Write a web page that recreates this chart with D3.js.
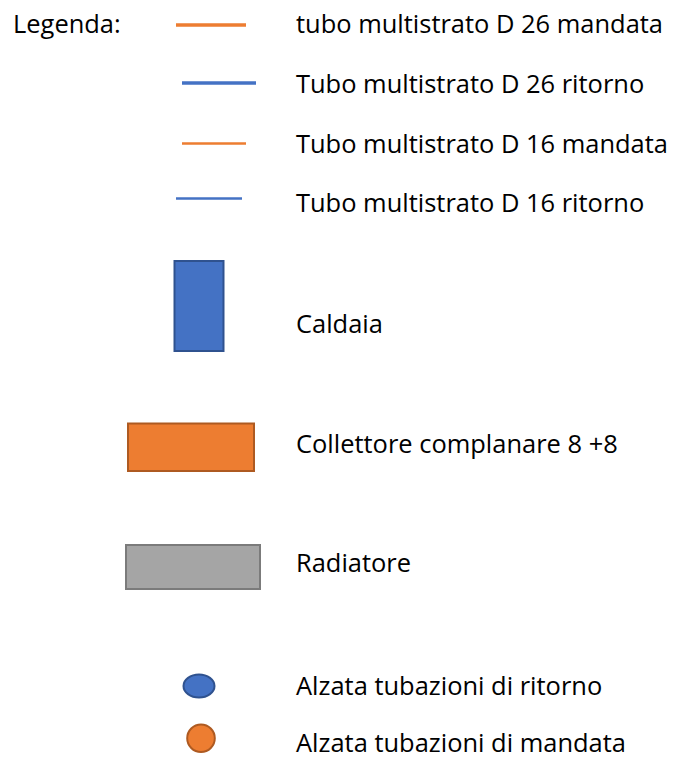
<!DOCTYPE html>
<html><head><meta charset="utf-8">
<script src="https://cdn.jsdelivr.net/npm/d3@7"></script>
<style>html,body{margin:0;padding:0;background:#fff;}svg{display:block;}</style>
</head><body>
<svg id="c" width="674" height="758"></svg>
<script>
const title = "Legenda:";
const labels = [
  "tubo multistrato D 26 mandata",
  "Tubo multistrato D 26 ritorno",
  "Tubo multistrato D 16 mandata",
  "Tubo multistrato D 16 ritorno",
  "Caldaia",
  "Collettore complanare 8 +8",
  "Radiatore",
  "Alzata tubazioni di ritorno",
  "Alzata tubazioni di mandata"
];
const symbols = ["line26", "line26", "line16", "line16", "boiler", "manifold", "radiator", "ellipse", "circle"];
const kinds = ["mandata", "ritorno", "mandata", "ritorno", "ritorno", "mandata", "radiator", "ritorno", "mandata"];

const svg = d3.select("#c");
const W = 674, H = 758;

// layout scales
const yBase = d3.scaleOrdinal().domain(d3.range(labels.length))
  .range([33, 92.5, 153, 212, 332.5, 453, 572, 695, 752]);
const fill = d3.scaleOrdinal().domain(["mandata", "ritorno", "radiator"])
  .range(["#ED7D31", "#4472C4", "#A5A5A5"]);
const stroke = d3.scaleOrdinal().domain(["mandata", "ritorno", "radiator"])
  .range(["#AE5A21", "#2F528F", "#7B7B7B"]);

const fontFamily = "'Open Sans', 'Noto Sans', sans-serif";
const fontSize = 25.5;
const textX = 296;

// measure horizontal compression to mimic narrower original face
const probe = svg.append("text").attr("font-family", fontFamily).attr("font-size", fontSize).text(labels[0]);
const ratio = 367 / probe.node().getComputedTextLength();
probe.remove();

function addText(g, str, x, y) {
  const t = g.append("text").attr("x", x).attr("y", y)
    .attr("font-family", fontFamily).attr("font-size", fontSize).attr("fill", "#000").text(str);
  const L = t.node().getComputedTextLength();
  t.attr("textLength", L * ratio).attr("lengthAdjust", "spacingAndGlyphs");
}

addText(svg, title, 13, yBase(0));

const row = svg.selectAll("g.row").data(labels.map((l, i) => ({l, i, s: symbols[i], k: kinds[i]})))
  .join("g").attr("class", "row");

row.each(function(d) {
  const g = d3.select(this);
  const y = yBase(d.i);
  const mid = y - 8;
  if (d.s === "line26" || d.s === "line16") {
    const spans = {0: [176, 246], 1: [182, 256], 2: [182, 246], 3: [176, 242]};
    const sw = d.s === "line26" ? (d.i === 0 ? 3.6 : 3.4) : 2.4;
    const ly = [25, 83, 143.5, 198.5][d.i];
    g.append("line").attr("x1", spans[d.i][0]).attr("x2", spans[d.i][1])
      .attr("y1", ly).attr("y2", ly).attr("stroke", fill(d.k)).attr("stroke-width", sw);
  } else if (d.s === "boiler") {
    g.append("rect").attr("x", 174.5).attr("y", 261).attr("width", 49).attr("height", 90)
      .attr("fill", fill(d.k)).attr("stroke", stroke(d.k)).attr("stroke-width", 2);
  } else if (d.s === "manifold") {
    g.append("rect").attr("x", 128).attr("y", 423.5).attr("width", 126).attr("height", 47.5)
      .attr("fill", fill(d.k)).attr("stroke", stroke(d.k)).attr("stroke-width", 2);
  } else if (d.s === "radiator") {
    g.append("rect").attr("x", 126).attr("y", 545).attr("width", 134).attr("height", 44)
      .attr("fill", fill(d.k)).attr("stroke", stroke(d.k)).attr("stroke-width", 2);
  } else if (d.s === "ellipse") {
    g.append("ellipse").attr("cx", 199).attr("cy", 686).attr("rx", 15.5).attr("ry", 11.5)
      .attr("fill", fill(d.k)).attr("stroke", stroke(d.k)).attr("stroke-width", 2);
  } else if (d.s === "circle") {
    g.append("ellipse").attr("cx", 201).attr("cy", 738.3).attr("rx", 13.8).attr("ry", 13.8)
      .attr("fill", fill(d.k)).attr("stroke", stroke(d.k)).attr("stroke-width", 2);
  }
  addText(g, d.l, textX, y);
});
</script>
</body></html>
